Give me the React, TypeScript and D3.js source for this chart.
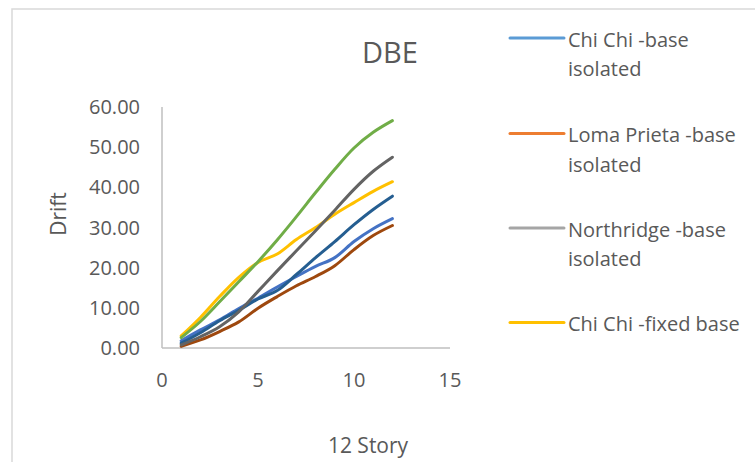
import React from "react";
import * as d3 from "d3";

const stories = [1, 2, 3, 4, 5, 6, 7, 8, 9, 10, 11, 12];

// visible plotted series (drawn in this order)
const chiChiFixed = [3.0, 7.6, 12.8, 17.6, 21.3, 23.4, 27, 30, 33.3, 36.2, 39, 41.4];
const series5 = [1.8, 4.5, 7, 9.8, 12.4, 15.2, 17.8, 20.3, 22.5, 26.5, 29.7, 32.2];
const series6 = [2.6, 6.6, 11.5, 16.5, 21.5, 26.9, 32.7, 38.7, 44.5, 49.8, 53.7, 56.6];
const series7 = [1.2, 3.8, 6.8, 9.4, 12.2, 14.3, 18.3, 22.5, 26.5, 30.7, 34.5, 37.8];
const series8 = [0.4, 2, 4.1, 6.5, 9.9, 12.8, 15.5, 17.8, 20.5, 24.5, 28, 30.5];
const series9 = [0.75, 2.8, 5.3, 9.0, 14.1, 19.2, 24.2, 29.2, 34.3, 39.5, 44, 47.5];

const lineSeries = [
  { values: chiChiFixed, color: "#FFC000" },
  { values: series5, color: "#4472C4" },
  { values: series6, color: "#70AD47" },
  { values: series7, color: "#255E91" },
  { values: series8, color: "#9E480E" },
  { values: series9, color: "#636363" },
];

const legendNames = [
  ["Chi Chi -base", "isolated"],
  ["Loma Prieta -base", "isolated"],
  ["Northridge -base", "isolated"],
  ["Chi Chi -fixed base"],
];
const legendColors = ["#5B9BD5", "#ED7D31", "#A5A5A5", "#FFC000"];

const xTicks = [0, 5, 10, 15];
const yTicks = [0, 10, 20, 30, 40, 50, 60];

const FONT = "'Open Sans', 'Noto Sans', sans-serif";
const TEXT = "#595959";

export default function App() {
  const x = d3.scaleLinear().domain([0, 15]).range([162, 450]);
  const y = d3.scaleLinear().domain([0, 60]).range([348, 107]);
  const line = d3
    .line<number>()
    .x((_, i) => x(stories[i]))
    .y((d) => y(d))
    .curve(d3.curveCatmullRom.alpha(0.5));

  const legendY = [38, 133.5, 228, 322.5];

  return (
    <svg
      width={755}
      height={462}
      style={{ position: "absolute", left: 0, top: 0, background: "#fff" }}
      fontFamily={FONT}
    >
      <rect x={12} y={9} width={800} height={500} fill="#fff" stroke="#D9D9D9" strokeWidth={1.5} />
      <text x={390} y={63} textAnchor="middle" fontSize={29} fill={TEXT}>
        DBE
      </text>
      {/* axes */}
      <line x1={x(0)} x2={x(0)} y1={y(60)} y2={y(0)} stroke="#BFBFBF" strokeWidth={1.5} />
      <line x1={x(0)} x2={x(15)} y1={y(0)} y2={y(0)} stroke="#BFBFBF" strokeWidth={1.5} />
      {yTicks.map((t) => (
        <text key={t} x={140} y={y(t)} dy="0.35em" textAnchor="end" fontSize={20} fill={TEXT}>
          {t.toFixed(2)}
        </text>
      ))}
      {xTicks.map((t) => (
        <text key={t} x={x(t)} y={387} textAnchor="middle" fontSize={20} fill={TEXT}>
          {t}
        </text>
      ))}
      <text x={368} y={453} textAnchor="middle" fontSize={21} fill={TEXT}>
        12 Story
      </text>
      <text
        transform="translate(66,214) rotate(-90)"
        textAnchor="middle"
        fontSize={21}
        fill={TEXT}
      >
        Drift
      </text>
      {lineSeries.map((s, i) => (
        <path
          key={i}
          d={line(s.values) || ""}
          fill="none"
          stroke={s.color}
          strokeWidth={3}
          strokeLinecap="round"
          strokeLinejoin="round"
        />
      ))}
      {legendNames.map((lines, i) => (
        <g key={i}>
          <line
            x1={510}
            x2={564}
            y1={legendY[i]}
            y2={legendY[i]}
            stroke={legendColors[i]}
            strokeWidth={3}
            strokeLinecap="round"
          />
          {lines.map((ln, j) => (
            <text key={j} x={568} y={legendY[i] + 8.5 + j * 29.5} fontSize={20} fill={TEXT}>
              {ln}
            </text>
          ))}
        </g>
      ))}
    </svg>
  );
}
